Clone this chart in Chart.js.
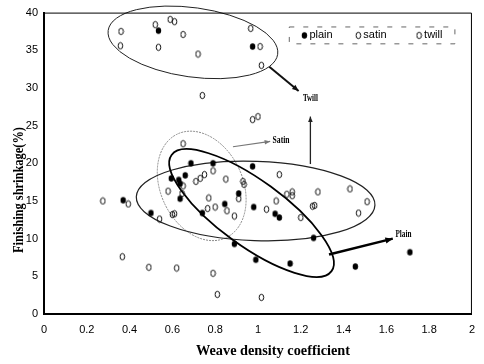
<!DOCTYPE html>
<html lang="en">
<head>
<meta charset="UTF-8">
<title>Finishing shrinkage vs weave density coefficient</title>
<script src="https://cdn.jsdelivr.net/npm/chart.js"></script>
<style>
  html, body { margin: 0; padding: 0; background: #fff; }
  #wrap { width: 484px; height: 364px; }
</style>
</head>
<body>
<div id="wrap"><canvas id="myChart" width="484" height="364"></canvas></div>
<script>
// values
const plainX = [0.535, 0.975, 0.687, 0.79, 0.595, 0.63, 0.636, 0.66, 0.636, 0.37, 0.50, 0.74,
                0.845, 0.975, 0.91, 0.98, 1.08, 1.10, 0.89, 0.99, 1.15, 1.26, 1.455, 1.71];
const plainY = [37.6, 35.5, 20.0, 20.0, 18.0, 17.8, 17.3, 18.4, 15.3, 15.1, 13.4, 13.4,
                14.6, 19.6, 16.0, 14.2, 13.3, 12.8, 9.3, 7.2, 6.7, 10.1, 6.3, 8.2];

const satinX = [0.65, 0.79, 0.75, 0.73, 0.71, 0.65, 0.58, 0.645, 0.60, 0.61, 0.77, 0.765,
                0.80, 0.85, 0.93, 0.935, 0.91, 0.855, 0.89, 0.54, 0.62, 0.79, 0.81];
const satinY = [22.6, 19.0, 18.5, 18.0, 17.6, 17.0, 16.3, 16.0, 13.2, 13.3, 15.4, 14.0,
                14.2, 17.9, 17.6, 17.2, 15.3, 13.7, 13.0, 12.6, 6.1, 5.4, 2.6];

const twillX = [0.36, 0.357, 0.52, 0.59, 0.61, 0.65, 0.535, 0.72, 0.966, 1.01, 1.016, 0.74,
                0.975, 1.0, 0.275, 0.394, 1.10, 1.135, 1.16, 1.16, 1.28, 1.255, 1.265, 1.085,
                1.04, 1.20, 1.43, 1.51, 1.47, 0.366, 0.49, 1.016];
const twillY = [37.5, 35.6, 38.4, 39.1, 38.8, 37.1, 35.4, 34.5, 37.9, 35.5, 33.0, 29.0,
                25.8, 26.2, 15.0, 14.6, 18.5, 15.9, 16.2, 15.7, 16.2, 14.3, 14.4, 15.0,
                13.9, 12.8, 16.6, 14.9, 13.4, 7.6, 6.2, 2.2];

const xMin = 0, xMax = 2, xStep = 0.2;
const yMin = 0, yMax = 40, yStep = 5;

const xTitle = 'Weave density coefficient';
const yTitle = 'Finishing shrinkage(%)';

function toPoints(xs, ys) {
    return xs.map((v, i) => ({ x: v, y: ys[i] }));
}

// small oval markers like the scanned ones
function marker(filled) {
    const c = document.createElement('canvas');
    c.width = 7; c.height = 9;
    const g = c.getContext('2d');
    g.beginPath();
    if (filled) {
        g.ellipse(3.5, 4.5, 2.7, 3.3, 0, 0, Math.PI * 2);
        g.fillStyle = '#000';
        g.fill();
    } else {
        g.ellipse(3.5, 4.5, 2.3, 3.2, 0, 0, Math.PI * 2);
        g.strokeStyle = '#111';
        g.lineWidth = 1;
        g.stroke();
    }
    return c;
}
const dotFilled = marker(true);
const dotHollow = marker(false);

function arrowHead(ctx, x0, y0, x1, y1, size) {
    const a = Math.atan2(y1 - y0, x1 - x0);
    ctx.beginPath();
    ctx.moveTo(x1, y1);
    ctx.lineTo(x1 - size * Math.cos(a - 0.4), y1 - size * Math.sin(a - 0.4));
    ctx.lineTo(x1 - size * Math.cos(a + 0.4), y1 - size * Math.sin(a + 0.4));
    ctx.closePath();
    ctx.fill();
}

function squeezedText(ctx, text, cx, cy, font, width, rot) {
    ctx.save();
    ctx.font = font;
    ctx.translate(cx, cy);
    if (rot) ctx.rotate(rot);
    const w = ctx.measureText(text).width;
    ctx.scale(width / w, 1);
    ctx.textAlign = 'center';
    ctx.textBaseline = 'middle';
    ctx.fillText(text, 0, 0);
    ctx.restore();
}

const sketchPlugin = {
    id: 'sketch',
    beforeDatasetsDraw(chart, args, opts) {
        const { ctx, scales: { x, y } } = chart;
        ctx.save();
        opts.ellipses.forEach(e => {
            const cx = x.getPixelForValue(e.x), cy = y.getPixelForValue(e.y);
            const rx = Math.abs(x.getPixelForValue(e.x + e.rx) - cx);
            const ry = Math.abs(y.getPixelForValue(e.y + e.ry) - cy);
            ctx.beginPath();
            ctx.ellipse(cx, cy, rx, ry, e.rot * Math.PI / 180, 0, Math.PI * 2);
            ctx.lineWidth = e.width;
            ctx.strokeStyle = e.color;
            ctx.setLineDash(e.dash || []);
            ctx.stroke();
        });
        ctx.setLineDash([]);
        opts.arrows.forEach(r => {
            const x0 = x.getPixelForValue(r.from[0]), y0 = y.getPixelForValue(r.from[1]);
            const x1 = x.getPixelForValue(r.to[0]), y1 = y.getPixelForValue(r.to[1]);
            ctx.strokeStyle = r.color;
            ctx.fillStyle = r.color;
            ctx.lineWidth = r.width;
            ctx.beginPath();
            ctx.moveTo(x0, y0);
            ctx.lineTo(x1, y1);
            ctx.stroke();
            arrowHead(ctx, x0, y0, x1, y1, r.head);
        });
        ctx.restore();
    },
    afterDraw(chart, args, opts) {
        const { ctx, chartArea: a, scales: { x, y } } = chart;
        ctx.save();
        // top and right frame
        ctx.strokeStyle = '#000';
        ctx.lineWidth = 1;
        ctx.beginPath();
        ctx.moveTo(a.left, a.top + 0.5);
        ctx.lineTo(a.right - 0.5, a.top + 0.5);
        ctx.lineTo(a.right - 0.5, a.bottom);
        ctx.stroke();

        ctx.fillStyle = '#000';
        opts.notes.forEach(n => {
            squeezedText(ctx, n.text, x.getPixelForValue(n.x), y.getPixelForValue(n.y),
                'bold 10px "Liberation Serif"', n.w);
        });

        // legend box
        const L = opts.legend;
        const bx0 = x.getPixelForValue(L.box[0]), by0 = y.getPixelForValue(L.box[1]);
        const bx1 = x.getPixelForValue(L.box[2]), by1 = y.getPixelForValue(L.box[3]);
        ctx.strokeStyle = '#666';
        ctx.lineWidth = 1;
        ctx.setLineDash([5, 9]);
        ctx.strokeRect(bx0 + 0.5, by0 + 0.5, bx1 - bx0, by1 - by0);
        ctx.setLineDash([]);
        ctx.font = '11px "Liberation Sans"';
        ctx.textBaseline = 'middle';
        ctx.textAlign = 'left';
        chart.data.datasets.forEach((ds, i) => {
            const mx = x.getPixelForValue(L.items[i]), my = y.getPixelForValue(L.itemY);
            ctx.drawImage(ds.pointStyle, mx - 3.5, my - 4.5);
            ctx.fillText(ds.label, mx + 5, my);
        });

        // axis titles
        squeezedText(ctx, xTitle, 273, 351, 'bold 15px "Liberation Serif"', 154);
        squeezedText(ctx, yTitle, 19, 190, 'bold 14px "Liberation Serif"', 126, -Math.PI / 2);
        ctx.restore();
    }
};

const ctx = document.getElementById('myChart').getContext('2d');
new Chart(ctx, {
    type: 'scatter',
    data: {
        datasets: [
            { label: 'plain', data: toPoints(plainX, plainY), pointStyle: dotFilled },
            { label: 'satin', data: toPoints(satinX, satinY), pointStyle: dotHollow },
            { label: 'twill', data: toPoints(twillX, twillY), pointStyle: dotHollow }
        ]
    },
    options: {
        responsive: false,
        animation: false,
        layout: { padding: { top: 10, right: 3, left: 0, bottom: 0 } },
        plugins: {
            legend: { display: false },
            tooltip: { enabled: false },
            sketch: {
                ellipses: [
                    { x: 0.696, y: 36.05, rx: 0.40, ry: 4.6, rot: 8, width: 1, color: '#222' },
                    { x: 0.737, y: 17.0, rx: 0.192, ry: 7.6, rot: -25, width: 1, color: '#888', dash: [2, 1] },
                    { x: 0.989, y: 15.0, rx: 0.558, ry: 5.26, rot: 2, width: 1.2, color: '#222' },
                    { x: 0.970, y: 13.4, rx: 0.462, ry: 4.34, rot: 36, width: 1.8, color: '#000' }
                ],
                arrows: [
                    { from: [1.053, 32.8], to: [1.19, 29.6], width: 2, head: 7, color: '#111' },
                    { from: [1.245, 19.9], to: [1.245, 26.2], width: 1.3, head: 6, color: '#222' },
                    { from: [0.883, 22.2], to: [1.057, 22.9], width: 1.2, head: 6, color: '#777' },
                    { from: [1.332, 7.9], to: [1.63, 10.0], width: 2.5, head: 8, color: '#000' }
                ],
                notes: [
                    { text: 'Twill', x: 1.245, y: 28.6, w: 15 },
                    { text: 'Satin', x: 1.108, y: 23.0, w: 17 },
                    { text: 'Plain', x: 1.68, y: 10.5, w: 16 }
                ],
                legend: {
                    box: [1.144, 38.16, 1.918, 35.92],
                    items: [1.217, 1.469, 1.753],
                    itemY: 36.97
                }
            }
        },
        elements: { point: { radius: 3, hoverRadius: 3 } },
        scales: {
            x: {
                type: 'linear',
                min: xMin,
                max: xMax,
                afterFit: (s) => { s.height = 50; },
                grid: { display: false, drawTicks: false },
                border: { display: true, color: '#000', width: 2 },
                ticks: {
                    stepSize: xStep,
                    padding: 9,
                    color: '#000',
                    font: { family: 'Liberation Sans', size: 11 },
                    callback: (v) => String(Number(v.toFixed(1)))
                }
            },
            y: {
                type: 'linear',
                min: yMin,
                max: yMax,
                afterFit: (s) => { s.width = 44; },
                grid: { display: false, drawTicks: false },
                border: { display: true, color: '#000', width: 2 },
                ticks: {
                    stepSize: yStep,
                    padding: 6,
                    color: '#000',
                    font: { family: 'Liberation Sans', size: 11 }
                }
            }
        }
    },
    plugins: [sketchPlugin]
});
</script>
</body>
</html>
